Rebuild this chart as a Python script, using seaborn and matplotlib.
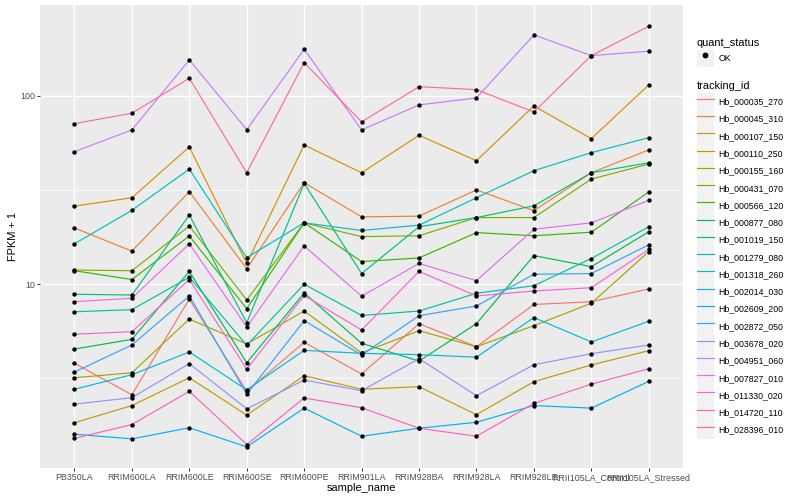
import matplotlib
matplotlib.use('Agg')
import matplotlib.pyplot as plt
import seaborn as sns
import pandas as pd
from matplotlib.ticker import FixedLocator, NullFormatter, FixedFormatter
from matplotlib.lines import Line2D
from matplotlib.patches import Rectangle
from matplotlib.legend_handler import HandlerLine2D

plt.rcParams['font.family'] = ['Liberation Sans', 'DejaVu Sans']

samples = ['PB350LA', 'RRIM600LA', 'RRIM600LE', 'RRIM600SE', 'RRIM600PE', 'RRIM901LA',
           'RRIM928BA', 'RRIM928LA', 'RRIM928LE', 'RRII105LA_Control', 'RRII105LA_Stressed']

tracking_ids = ['Hb_000035_270', 'Hb_000045_310', 'Hb_000107_150', 'Hb_000110_250',
                'Hb_000155_160', 'Hb_000431_070', 'Hb_000566_120', 'Hb_000877_080',
                'Hb_001019_150', 'Hb_001279_080', 'Hb_001318_260', 'Hb_002014_030',
                'Hb_002609_200', 'Hb_002872_050', 'Hb_003678_020', 'Hb_004951_060',
                'Hb_007827_010', 'Hb_011330_020', 'Hb_014720_110', 'Hb_028396_010']

# FPKM per gene, one value per sample (plotted as FPKM + 1)
hb_000035_270 = [2.81, 1.59, 7.35, 1.70, 3.92, 2.34, 5.18, 3.66, 6.81, 7.08, 8.44]
hb_000045_310 = [18.9, 14.0, 30.0, 11.1, 33.6, 21.8, 22.0, 30.7, 23.6, 38.1, 50.7]
hb_000107_150 = [25.0, 27.8, 52.6, 11.9, 53.9, 38.1, 60.8, 44.3, 87.5, 58.3, 113.4]
hb_000110_250 = [0.84, 1.27, 2.19, 1.02, 2.27, 1.77, 1.86, 1.03, 2.04, 2.73, 3.44]
hb_000155_160 = [2.19, 2.39, 5.54, 3.82, 6.21, 3.32, 4.67, 3.66, 5.03, 6.93, 13.9]
hb_000431_070 = [10.9, 10.8, 19.4, 7.25, 20.2, 16.9, 17.1, 21.6, 21.6, 35.2, 42.5]
hb_000566_120 = [10.8, 9.6, 17.05, 6.42, 20.2, 12.2, 12.8, 17.8, 17.1, 17.9, 29.9]
hb_000877_080 = [3.53, 4.10, 10.7, 2.83, 7.99, 3.86, 2.91, 5.18, 13.2, 11.4, 18.0]
hb_001019_150 = [7.85, 7.77, 22.3, 5.25, 33.3, 10.4, 19.2, 21.6, 25.1, 38.1, 43.2]
hb_001279_080 = [6.15, 6.33, 9.9, 3.74, 9.0, 5.83, 6.21, 7.96, 8.83, 12.7, 19.2]
hb_001318_260 = [15.4, 23.7, 39.9, 12.85, 20.2, 18.3, 19.6, 27.8, 39.1, 49.0, 59.0]
hb_002014_030 = [1.77, 2.31, 3.37, 1.75, 3.46, 3.30, 3.23, 3.10, 5.66, 3.94, 5.36]
hb_002609_200 = [0.60, 0.51, 0.73, 0.37, 1.20, 0.56, 0.72, 0.85, 1.27, 1.20, 2.05]
hb_002872_050 = [2.42, 3.76, 7.67, 1.61, 5.41, 3.21, 5.81, 6.67, 10.3, 10.4, 15.2]
hb_003678_020 = [1.31, 1.50, 2.79, 1.18, 2.10, 1.72, 3.03, 1.56, 2.74, 3.28, 3.76]
hb_004951_060 = [49.6, 65.0, 154.3, 65.2, 176.0, 65.0, 88.6, 96.6, 209.9, 162.7, 171.8]
hb_007827_010 = [7.08, 7.43, 15.4, 4.93, 15.0, 7.64, 11.9, 9.45, 18.6, 20.2, 26.9]
hb_011330_020 = [4.43, 4.60, 9.6, 2.54, 7.72, 4.72, 10.7, 7.67, 8.21, 8.59, 14.3]
hb_014720_110 = [0.52, 0.80, 1.70, 0.41, 1.49, 1.21, 0.72, 0.56, 1.33, 1.95, 2.56]
hb_028396_010 = [70.3, 79.9, 123.2, 38.1, 149.3, 71.8, 111.0, 107.0, 81.2, 162.7, 233.5]

series = [hb_000035_270, hb_000045_310, hb_000107_150, hb_000110_250, hb_000155_160,
          hb_000431_070, hb_000566_120, hb_000877_080, hb_001019_150, hb_001279_080,
          hb_001318_260, hb_002014_030, hb_002609_200, hb_002872_050, hb_003678_020,
          hb_004951_060, hb_007827_010, hb_011330_020, hb_014720_110, hb_028396_010]

# ggplot2 default hue palette for 20 levels
colors = ['#F8766D', '#EA8331', '#D89000', '#C09B00', '#A3A500', '#7CAE00', '#39B600',
          '#00BB4E', '#00BF7D', '#00C1A3', '#00BFC4', '#00BAE0', '#00B0F6', '#35A2FF',
          '#9590FF', '#C77CFF', '#E76BF3', '#FA62DB', '#FF62BC', '#FF6C91']

rows = []
for tid, vals in zip(tracking_ids, series):
    for s, v in zip(samples, vals):
        rows.append({'tracking_id': tid, 'sample_name': s, 'fpkm': v, 'quant_status': 'OK'})
df = pd.DataFrame(rows)
df['fpkm1'] = df['fpkm'] + 1


class KeyHandler(HandlerLine2D):
    """Legend key with the grey ggplot-style background box."""
    def create_artists(self, legend, orig_handle, xdescent, ydescent, width, height, fontsize, trans):
        bg = Rectangle((-xdescent, -ydescent), width, height, facecolor='#F2F2F2',
                       edgecolor='none', transform=trans)
        arts = super().create_artists(legend, orig_handle, xdescent, ydescent, width, height,
                                      fontsize, trans)
        return [bg] + list(arts)


fig = plt.figure(figsize=(8, 5), dpi=100)
ax = fig.add_axes([0.05, 0.064, 0.804, 0.926])
ax.set_facecolor('#EBEBEB')
ax.set_yscale('log')

sns.lineplot(data=df, x='sample_name', y='fpkm1', hue='tracking_id', hue_order=tracking_ids,
             palette=colors, sort=False, estimator=None, errorbar=None, lw=0.85,
             legend=False, ax=ax)
sns.scatterplot(data=df, x='sample_name', y='fpkm1', color='black', s=10, linewidth=0,
                legend=False, ax=ax, zorder=3)

ax.set_xlim(-0.6, 10.6)
ax.set_ylim(1.058, 304)
ax.yaxis.set_major_locator(FixedLocator([10, 100]))
ax.yaxis.set_major_formatter(FixedFormatter(['10', '100']))
ax.yaxis.set_minor_locator(FixedLocator([10 ** 0.5, 10 ** 1.5]))
ax.yaxis.set_minor_formatter(NullFormatter())

ax.set_axisbelow(True)
ax.grid(which='major', color='white', lw=1.0)
ax.grid(which='minor', axis='y', color='white', lw=0.5)
for sp in ax.spines.values():
    sp.set_visible(False)
ax.tick_params(which='major', length=2, width=0.7, color='#333333', labelsize=6.4,
               labelcolor='#4D4D4D', pad=1.5)
ax.tick_params(which='minor', length=0)
ax.set_xlabel('sample_name', fontsize=7.9, labelpad=0.8)
ax.set_ylabel('FPKM + 1', fontsize=7.9, labelpad=1.5)

# legends
key_kw = dict(loc='upper left', frameon=False, fontsize=6.3, title_fontsize=7.9,
              handlelength=1.95, handleheight=2.66, handletextpad=0.5, labelspacing=0.0,
              borderpad=0, borderaxespad=0, alignment='left',
              handler_map={Line2D: KeyHandler()})

ok_handle = Line2D([], [], marker='o', color='black', linestyle='none', markersize=3.2)
leg1 = fig.legend([ok_handle], ['OK'], title='quant_status',
                  bbox_to_anchor=(0.871, 0.925), **key_kw)
leg1._legend_box.sep = 1.5

line_handles = [Line2D([], [], color=c, lw=0.85) for c in colors]
leg2 = fig.legend(line_handles, tracking_ids, title='tracking_id',
                  bbox_to_anchor=(0.871, 0.838), **key_kw)
leg2._legend_box.sep = 1.5

fig.savefig('out.png', dpi=100)
